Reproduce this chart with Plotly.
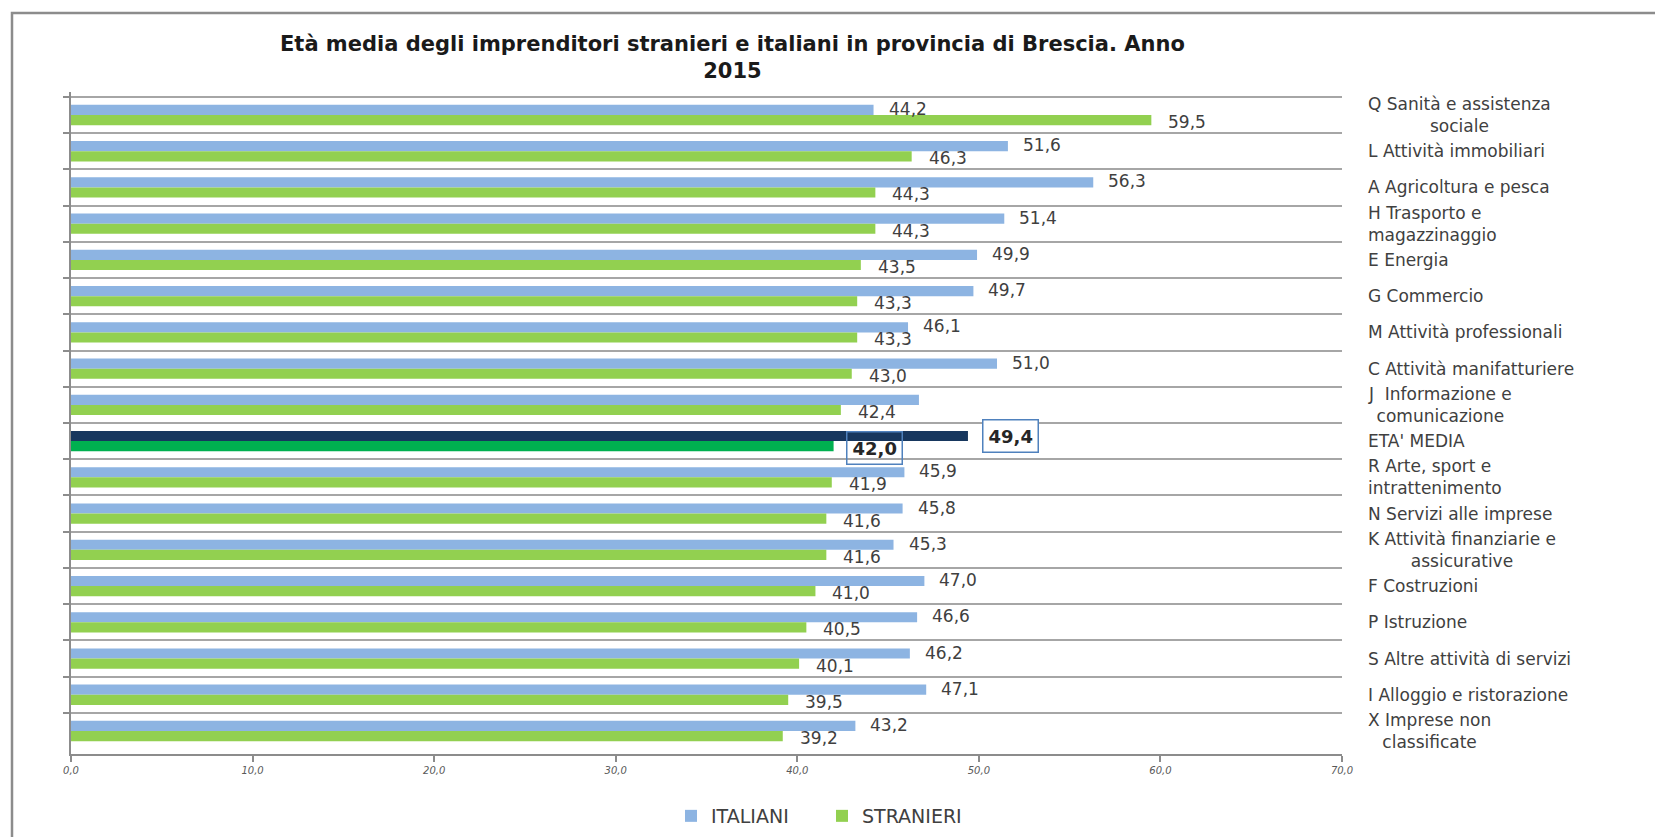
import plotly.graph_objects as go

# ---------------- data ----------------
CATEGORIES = [
    "Q Sanità e assistenza<br>sociale",
    "L Attività immobiliari",
    "A Agricoltura e pesca",
    "H Trasporto e<br>magazzinaggio",
    "E Energia",
    "G Commercio",
    "M Attività professionali",
    "C Attività manifatturiere",
    "J  Informazione e<br>comunicazione",
    "ETA' MEDIA",
    "R Arte, sport e<br>intrattenimento",
    "N Servizi alle imprese",
    "K Attività finanziarie e<br>assicurative",
    "F Costruzioni",
    "P Istruzione",
    "S Altre attività di servizi",
    "I Alloggio e ristorazione",
    "X Imprese non<br>classificate",
]
ITALIANI = [44.2, 51.6, 56.3, 51.4, 49.9, 49.7, 46.1, 51.0, 46.7, 49.4,
            45.9, 45.8, 45.3, 47.0, 46.6, 46.2, 47.1, 43.2]
STRANIERI = [59.5, 46.3, 44.3, 44.3, 43.5, 43.3, 43.3, 43.0, 42.4, 42.0,
             41.9, 41.6, 41.6, 41.0, 40.5, 40.1, 39.5, 39.2]
# categories whose ITALIANI value carries no data label in the original
ITALIANI_UNLABELLED = ["J  Informazione e<br>comunicazione"]
TOTAL_CATEGORY = "ETA' MEDIA"
CENTERED_LABELS = ["Q Sanità e assistenza<br>sociale",
                   "J  Informazione e<br>comunicazione",
                   "K Attività finanziarie e<br>assicurative",
                   "X Imprese non<br>classificate"]
TITLE = "Età media degli imprenditori stranieri e italiani in provincia di Brescia. Anno<br>2015"
X_TICKS = [0, 10, 20, 30, 40, 50, 60, 70]

# ---------------- layout geometry (page pixels) ----------------
PAGE_W, PAGE_H = 1663, 837
BODY = 8                       # default html body margin
W, H = PAGE_W - BODY, PAGE_H - BODY
PL, PR, PT, PB = 71, 1342, 92, 754   # plot area in page pixels


def px_x(x):
    return (x - PL) / (PR - PL)


def px_y(y):
    return (PB - y) / (PB - PT)


def fmt(v):
    return f"{v:.1f}".replace(".", ",")


FONT = "DejaVu Sans"
TXT = "#404040"

ita_colors = ["#17375E" if c == TOTAL_CATEGORY else "#8DB4E2" for c in CATEGORIES]
str_colors = ["#00B050" if c == TOTAL_CATEGORY else "#92D050" for c in CATEGORIES]

fig = go.Figure()
fig.add_trace(go.Bar(
    name="ITALIANI", y=CATEGORIES, x=ITALIANI, orientation="h",
    marker=dict(color=ita_colors, line=dict(width=0)),
))
fig.add_trace(go.Bar(
    name="STRANIERI", y=CATEGORIES, x=STRANIERI, orientation="h",
    marker=dict(color=str_colors, line=dict(width=0)),
))

annotations = []
label_font = dict(family=FONT, size=17, color=TXT)
for cat, vi, vs in zip(CATEGORIES, ITALIANI, STRANIERI):
    if cat == TOTAL_CATEGORY:
        bold = dict(family=FONT, size=18, color="#262626", weight="bold")
        annotations.append(dict(x=vi, y=cat, xref="x", yref="y", text=fmt(vi),
                                showarrow=False, xanchor="left", yanchor="middle",
                                xshift=14, yshift=5, font=bold,
                                bordercolor="#4F81BD", borderwidth=1.5, borderpad=5,
                                bgcolor="white"))
        annotations.append(dict(x=vs, y=cat, xref="x", yref="y", text=fmt(vs),
                                showarrow=False, xanchor="left", yanchor="middle",
                                xshift=12, yshift=-7, font=bold,
                                bordercolor="#4F81BD", borderwidth=1.5, borderpad=5))
        continue
    if cat not in ITALIANI_UNLABELLED:
        annotations.append(dict(x=vi, y=cat, xref="x", yref="y", text=fmt(vi),
                                showarrow=False, xanchor="left", yanchor="middle",
                                xshift=13, yshift=6, font=label_font))
    annotations.append(dict(x=vs, y=cat, xref="x", yref="y", text=fmt(vs),
                            showarrow=False, xanchor="left", yanchor="middle",
                            xshift=15, yshift=-7, font=label_font))

# category labels on the right side
for cat in CATEGORIES:
    annotations.append(dict(x=1, y=cat, xref="paper", yref="y", text=cat,
                            showarrow=False, xanchor="left", yanchor="middle",
                            xshift=24,
                            align="center" if cat in CENTERED_LABELS else "left",
                            font=dict(family=FONT, size=17, color=TXT)))

# title
annotations.append(dict(x=px_x(732), y=px_y(57), xref="paper", yref="paper",
                        text=TITLE, showarrow=False, xanchor="center",
                        yanchor="middle", align="center",
                        font=dict(family=FONT, size=21, color="#1a1a1a", weight="bold")))

shapes = [
    # chart frame
    dict(type="rect", xref="paper", yref="paper",
         x0=px_x(12), x1=px_x(1700), y0=px_y(900), y1=px_y(13),
         line=dict(color="#8C8C8C", width=2.5), fillcolor="rgba(0,0,0,0)",
         layer="above"),
]

fig.update_layout(
    width=W, height=H,
    margin=dict(l=PL - BODY, r=W - (PR - BODY), t=PT - BODY, b=H - (PB - BODY),
                pad=0, autoexpand=False),
    paper_bgcolor="white", plot_bgcolor="white",
    barmode="group", bargap=0.44, bargroupgap=0,
    separators=",.",
    showlegend=True,
    legend=dict(orientation="h", x=px_x(822), xanchor="center",
                y=px_y(816), yanchor="middle",
                font=dict(family=FONT, size=19, color=TXT),
                traceorder="normal", itemwidth=30, bgcolor="rgba(0,0,0,0)",
                entrywidth=106, entrywidthmode="pixels"),
    annotations=annotations,
    shapes=shapes,
    xaxis=dict(range=[0, 70], tickvals=X_TICKS, tickformat=".1f",
               showgrid=False, zeroline=False,
               showline=True, linecolor="#8C8C8C", linewidth=2,
               ticks="outside", ticklen=6, tickcolor="#8C8C8C", tickwidth=1.5,
               tickfont=dict(family=FONT, size=10, color="#595959", style="italic"),
               fixedrange=True),
    yaxis=dict(autorange="reversed", categoryorder="array",
               categoryarray=CATEGORIES,
               showticklabels=False, tickson="boundaries",
               ticks="outside", ticklen=6, tickcolor="#8C8C8C", tickwidth=1.5,
               showgrid=True, gridcolor="#A6A6A6", gridwidth=1.5,
               showline=True, linecolor="#8C8C8C", linewidth=2,
               zeroline=False, fixedrange=True),
)

fig.write_html("out.html")
